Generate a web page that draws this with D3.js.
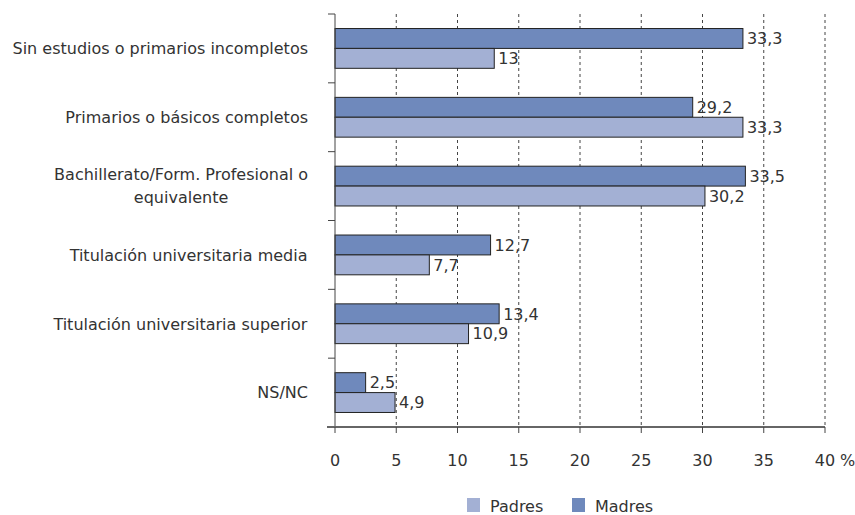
<!DOCTYPE html>
<html>
<head>
<meta charset="utf-8">
<script src="https://cdn.jsdelivr.net/npm/d3@7"></script>
<style>
  body { margin: 0; background: #fff; }
  text { font-family: "DejaVu Sans", Verdana, sans-serif; fill: #333; }
</style>
</head>
<body>
<div id="chart"></div>
<script>
// Nivel de estudios de padres y madres (%)
const categories = [
  ["Sin estudios o primarios incompletos"],
  ["Primarios o básicos completos"],
  ["Bachillerato/Form. Profesional o", "equivalente"],
  ["Titulación universitaria media"],
  ["Titulación universitaria superior"],
  ["NS/NC"]
];
const madres = [33.3, 29.2, 33.5, 12.7, 13.4, 2.5];
const padres = [13, 33.3, 30.2, 7.7, 10.9, 4.9];
const xTicks = [0, 5, 10, 15, 20, 25, 30, 35, 40];
const seriesNames = ["Madres", "Padres"];
const legendOrder = ["Padres", "Madres"];

const COLORS = { Madres: "#6f89bc", Padres: "#a3b0d4" };
const FS = 16;

const width = 855, height = 515;
const m = { left: 335, right: 30, top: 14, bottom: 88 };

const svg = d3.select("#chart").append("svg")
  .attr("width", width).attr("height", height);

const x = d3.scaleLinear().domain([0, 40]).range([m.left, 825]);
const y = d3.scaleBand().domain(d3.range(categories.length))
  .range([m.top, height - m.bottom]);
const inner = d3.scaleBand().domain(seriesNames)
  .range([0, y.bandwidth()]).paddingOuter(0.73).paddingInner(0);

const fmt = v => String(v).replace(".", ",");

// ── grid ──
svg.append("g").selectAll("line")
  .data(xTicks.filter(t => t > 0))
  .join("line")
  .attr("x1", d => x(d)).attr("x2", d => x(d))
  .attr("y1", m.top).attr("y2", height - m.bottom)
  .attr("stroke", "#444").attr("stroke-width", 1)
  .attr("stroke-dasharray", "3,3");

// ── bars ──
const rows = categories.map((c, i) => ({ i, Madres: madres[i], Padres: padres[i] }));
const gRow = svg.append("g").selectAll("g").data(rows).join("g")
  .attr("transform", d => `translate(0,${y(d.i)})`);

for (const s of seriesNames) {
  gRow.append("rect")
    .attr("x", x(0))
    .attr("y", inner(s))
    .attr("width", d => x(d[s]) - x(0))
    .attr("height", inner.bandwidth())
    .attr("fill", COLORS[s])
    .attr("stroke", "#222").attr("stroke-width", 1);
  gRow.append("text")
    .attr("x", d => x(d[s]) + 4)
    .attr("y", inner(s) + inner.bandwidth() / 2)
    .attr("dy", "0.36em")
    .attr("font-size", FS)
    .text(d => fmt(d[s]));
}

// ── y axis ──
const yAxis = svg.append("g");
yAxis.append("line")
  .attr("x1", x(0)).attr("x2", x(0))
  .attr("y1", m.top).attr("y2", height - m.bottom)
  .attr("stroke", "#444").attr("stroke-width", 1);
yAxis.selectAll("line.tick")
  .data(d3.range(categories.length + 1))
  .join("line").attr("class", "tick")
  .attr("x1", x(0) - 7).attr("x2", x(0))
  .attr("y1", i => m.top + i * y.step())
  .attr("y2", i => m.top + i * y.step())
  .attr("stroke", "#444");

const labels = yAxis.selectAll("text.cat").data(categories).join("text")
  .attr("class", "cat")
  .attr("font-size", FS)
  .attr("text-anchor", "middle");
labels.each(function (lines, i) {
  const cy = y(i) + y.bandwidth() / 2;
  const t = d3.select(this);
  const lh = 23;
  const y0 = cy - (lines.length - 1) * lh / 2;
  lines.forEach((ln, k) => {
    t.append("tspan")
      .attr("x", 0)
      .attr("y", y0 + k * lh)
      .attr("dy", "0.36em")
      .text(ln);
  });
});
// right-align the block, centre multi-line text within it
labels.each(function () {
  const bb = this.getBBox();
  const cx = 308 - bb.width / 2;
  d3.select(this).selectAll("tspan").attr("x", cx);
});

// ── x axis ──
const xAxis = svg.append("g")
  .attr("transform", `translate(0,${height - m.bottom})`);
xAxis.append("line")
  .attr("x1", x(0) - 8).attr("x2", x(40))
  .attr("stroke", "#666").attr("stroke-width", 2);
xAxis.selectAll("line.tick").data(xTicks).join("line").attr("class", "tick")
  .attr("x1", d => x(d)).attr("x2", d => x(d))
  .attr("y1", 0).attr("y2", 6)
  .attr("stroke", "#444");
xAxis.selectAll("text").data(xTicks).join("text")
  .attr("x", d => x(d)).attr("y", 39)
  .attr("text-anchor", "middle")
  .attr("font-size", FS)
  .text(d => d);
xAxis.append("text")
  .attr("x", x(40) + 15).attr("y", 39)
  .attr("font-size", FS)
  .text("%");

// ── legend ──
const lg = svg.append("g").attr("transform", "translate(467,498)");
const lx = { Padres: 0, Madres: 105 };
for (const s of legendOrder) {
  lg.append("rect").attr("x", lx[s]).attr("y", 0)
    .attr("width", 13).attr("height", 14).attr("fill", COLORS[s]);
  lg.append("text").attr("x", lx[s] + 23).attr("y", 14)
    .attr("font-size", FS).text(s);
}
</script>
</body>
</html>
